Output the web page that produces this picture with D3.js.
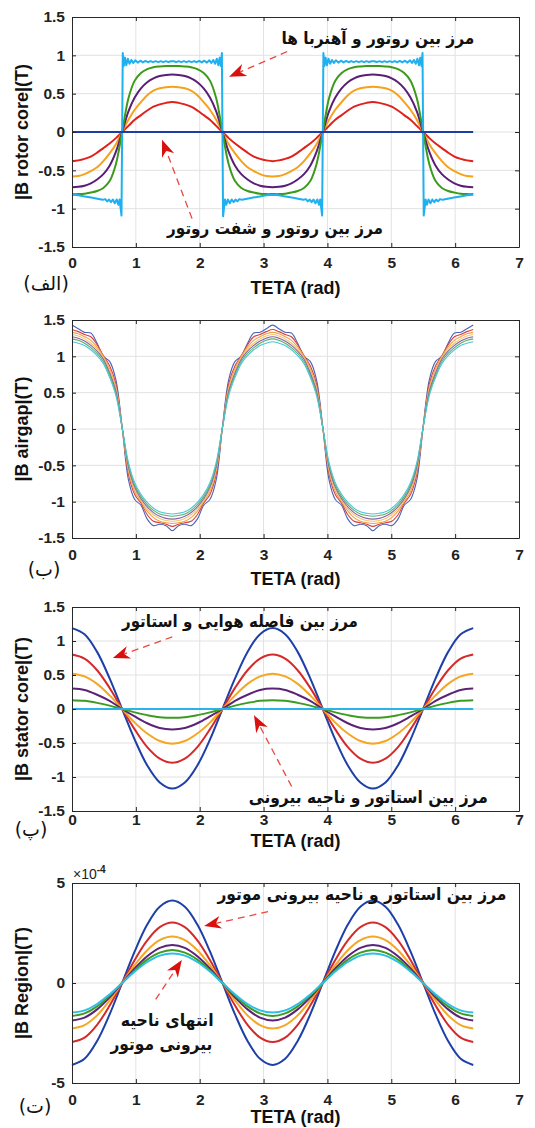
<!DOCTYPE html>
<html>
<head>
<meta charset="utf-8">
<script src="https://cdn.jsdelivr.net/npm/d3@7"></script>
<style>
  body { margin: 0; background: #fff; }
  svg { display: block; }
</style>
</head>
<body>
<div id="chart"></div>
<script>
// theta samples (rad), pi/32 and pi/16 steps
const tetaFine = [0, 0.098, 0.196, 0.295, 0.393, 0.491, 0.589, 0.687, 0.785, 0.884, 0.982, 1.080, 1.178, 1.276, 1.374, 1.473, 1.571,
  1.669, 1.767, 1.865, 1.963, 2.062, 2.160, 2.258, 2.356, 2.454, 2.553, 2.651, 2.749, 2.847, 2.945, 3.043, 3.142,
  3.240, 3.338, 3.436, 3.534, 3.633, 3.731, 3.829, 3.927, 4.025, 4.123, 4.222, 4.320, 4.418, 4.516, 4.614, 4.712,
  4.811, 4.909, 5.007, 5.105, 5.203, 5.301, 5.400, 5.498, 5.596, 5.694, 5.792, 5.890, 5.989, 6.087, 6.185, 6.283];
const tetaCoarse = [0, 0.196, 0.393, 0.589, 0.785, 0.982, 1.178, 1.374, 1.571, 1.767, 1.963, 2.160, 2.356, 2.553, 2.749, 2.945, 3.142,
  3.338, 3.534, 3.731, 3.927, 4.123, 4.320, 4.516, 4.712, 4.909, 5.105, 5.301, 5.498, 5.694, 5.890, 6.087, 6.283];

const xTicks = [0, 1, 2, 3, 4, 5, 6, 7];
const bTicks = [-1.5, -1, -0.5, 0, 0.5, 1, 1.5];
const regionTicks = [-5, 0, 5]; // x 1e-4

// (الف) rotor core
const rotorRed = [-0.38,-0.37,-0.35,-0.32,-0.27,-0.21,-0.15,-0.08,0,0.08,0.16,0.22,0.28,0.33,0.36,0.38,0.39,
  0.38,0.36,0.33,0.28,0.22,0.16,0.08,0,-0.08,-0.15,-0.21,-0.27,-0.32,-0.35,-0.37,-0.38,
  -0.37,-0.35,-0.32,-0.27,-0.21,-0.15,-0.08,0,0.08,0.16,0.22,0.28,0.33,0.36,0.38,0.39,
  0.38,0.36,0.33,0.28,0.22,0.16,0.08,0,-0.08,-0.15,-0.21,-0.27,-0.32,-0.35,-0.37,-0.38];
const rotorOrange = [-0.58,-0.575,-0.55,-0.51,-0.46,-0.38,-0.28,-0.16,0,0.16,0.29,0.39,0.48,0.54,0.57,0.585,0.59,
  0.585,0.57,0.54,0.48,0.39,0.29,0.16,0,-0.16,-0.28,-0.38,-0.46,-0.51,-0.55,-0.575,-0.58,
  -0.575,-0.55,-0.51,-0.46,-0.38,-0.28,-0.16,0,0.16,0.29,0.39,0.48,0.54,0.57,0.585,0.59,
  0.585,0.57,0.54,0.48,0.39,0.29,0.16,0,-0.16,-0.28,-0.38,-0.46,-0.51,-0.55,-0.575,-0.58];
const rotorPurple = [-0.72,-0.715,-0.70,-0.67,-0.62,-0.55,-0.44,-0.26,0,0.27,0.45,0.57,0.65,0.70,0.73,0.745,0.75,
  0.745,0.73,0.70,0.65,0.57,0.45,0.27,0,-0.26,-0.44,-0.55,-0.62,-0.67,-0.70,-0.715,-0.72,
  -0.715,-0.70,-0.67,-0.62,-0.55,-0.44,-0.26,0,0.27,0.45,0.57,0.65,0.70,0.73,0.745,0.75,
  0.745,0.73,0.70,0.65,0.57,0.45,0.27,0,-0.26,-0.44,-0.55,-0.62,-0.67,-0.70,-0.715,-0.72];
const rotorGreen = [-0.81,-0.81,-0.805,-0.79,-0.77,-0.73,-0.64,-0.42,0,0.44,0.67,0.77,0.82,0.845,0.855,0.86,0.86,
  0.86,0.855,0.845,0.82,0.77,0.67,0.44,0,-0.42,-0.64,-0.73,-0.77,-0.79,-0.805,-0.81,-0.81,
  -0.81,-0.805,-0.79,-0.77,-0.73,-0.64,-0.42,0,0.44,0.67,0.77,0.82,0.845,0.855,0.86,0.86,
  0.86,0.855,0.845,0.82,0.77,0.67,0.44,0,-0.42,-0.64,-0.73,-0.77,-0.79,-0.805,-0.81,-0.81];
const rotorShaft = [0,0,0,0,0,0,0,0,0,0,0,0,0,0,0,0,0,0,0,0,0,0,0,0,0,0,0,0,0,0,0,0,0];
// rotor / magnet boundary, [theta, B]
const rotorMagnetPts = [
  [0,-0.82],[0.10,-0.825],[0.20,-0.84],[0.30,-0.855],[0.40,-0.87],[0.48,-0.885],[0.52,-0.875],[0.55,-0.905],
  [0.58,-0.88],[0.61,-0.915],[0.64,-0.88],[0.67,-0.93],[0.70,-0.88],[0.725,-0.95],[0.745,-0.88],[0.762,-1.00],[0.775,-1.09],
  [0.795,1.03],[0.81,0.86],[0.83,0.97],[0.85,0.87],[0.875,0.955],[0.90,0.89],[0.93,0.94],[0.96,0.90],[0.99,0.935],
  [1.03,0.905],[1.07,0.93],[1.11,0.908],[1.15,0.927],[1.19,0.91],[1.23,0.925],[1.27,0.912],[1.31,0.924],[1.35,0.912],
  [1.39,0.924],[1.43,0.912],[1.47,0.924],[1.51,0.912],[1.55,0.922],[1.592,0.922],[1.632,0.912],[1.672,0.924],[1.712,0.912],
  [1.752,0.924],[1.792,0.912],[1.832,0.924],[1.872,0.912],[1.912,0.925],[1.952,0.91],[1.992,0.927],[2.032,0.908],[2.072,0.93],
  [2.112,0.905],[2.152,0.935],[2.182,0.90],[2.212,0.94],[2.242,0.89],[2.267,0.955],[2.292,0.87],[2.312,0.97],[2.332,0.86],[2.347,1.03],
  [2.366,-1.10],[2.379,-1.00],[2.396,-0.88],[2.416,-0.95],[2.441,-0.88],[2.471,-0.93],[2.501,-0.88],[2.531,-0.915],[2.561,-0.88],
  [2.591,-0.905],[2.621,-0.875],[2.661,-0.885],[2.741,-0.87],[2.841,-0.855],[2.941,-0.84],[3.041,-0.825],[3.142,-0.82],
  [3.242,-0.825],[3.342,-0.84],[3.442,-0.855],[3.542,-0.87],[3.622,-0.885],[3.662,-0.875],[3.692,-0.905],[3.722,-0.88],
  [3.752,-0.915],[3.782,-0.88],[3.812,-0.93],[3.842,-0.88],[3.867,-0.95],[3.887,-0.88],[3.904,-1.00],[3.917,-1.09],
  [3.937,1.03],[3.952,0.86],[3.972,0.97],[3.992,0.87],[4.017,0.955],[4.042,0.89],[4.072,0.94],[4.102,0.90],[4.132,0.935],
  [4.172,0.905],[4.212,0.93],[4.252,0.908],[4.292,0.927],[4.332,0.91],[4.372,0.925],[4.412,0.912],[4.452,0.924],[4.492,0.912],
  [4.532,0.924],[4.572,0.912],[4.612,0.924],[4.652,0.912],[4.692,0.922],[4.734,0.922],[4.774,0.912],[4.814,0.924],[4.854,0.912],
  [4.894,0.924],[4.934,0.912],[4.974,0.924],[5.014,0.912],[5.054,0.925],[5.094,0.91],[5.134,0.927],[5.174,0.908],[5.214,0.93],
  [5.254,0.905],[5.294,0.935],[5.324,0.90],[5.354,0.94],[5.384,0.89],[5.409,0.955],[5.434,0.87],[5.454,0.97],[5.474,0.86],[5.489,1.03],
  [5.508,-1.09],[5.521,-1.00],[5.538,-0.88],[5.558,-0.95],[5.583,-0.88],[5.613,-0.93],[5.643,-0.88],[5.673,-0.915],[5.703,-0.88],
  [5.733,-0.905],[5.763,-0.875],[5.803,-0.885],[5.883,-0.87],[5.983,-0.855],[6.083,-0.84],[6.183,-0.825],[6.283,-0.82]];

// (ب) airgap
const gapBlue = [1.43,1.38,1.33,1.32,1.18,1.00,0.93,0.68,0.03,-0.70,-0.97,-1.05,-1.24,-1.33,-1.31,-1.33,-1.40,
  -1.33,-1.31,-1.33,-1.24,-1.05,-0.97,-0.70,0.03,0.68,0.93,1.00,1.18,1.32,1.33,1.38,1.43,
  1.38,1.33,1.32,1.18,1.00,0.93,0.68,0.03,-0.70,-0.97,-1.05,-1.24,-1.33,-1.31,-1.33,-1.40,
  -1.33,-1.31,-1.33,-1.24,-1.05,-0.97,-0.70,0.03,0.68,0.93,1.00,1.18,1.32,1.33,1.38,1.43];
const gapRed = [1.37,1.34,1.30,1.27,1.16,1.01,0.87,0.62,0.02,-0.62,-0.90,-1.02,-1.18,-1.27,-1.29,-1.31,-1.34,
  -1.31,-1.29,-1.27,-1.18,-1.02,-0.90,-0.62,0.02,0.62,0.87,1.01,1.16,1.27,1.30,1.34,1.37,
  1.34,1.30,1.27,1.16,1.01,0.87,0.62,0.02,-0.62,-0.90,-1.02,-1.18,-1.27,-1.29,-1.31,-1.34,
  -1.31,-1.29,-1.27,-1.18,-1.02,-0.90,-0.62,0.02,0.62,0.87,1.01,1.16,1.27,1.30,1.34,1.37];
const gapOrange = [1.33,1.31,1.27,1.22,1.13,1.00,0.83,0.58,0.02,-0.58,-0.86,-1.00,-1.13,-1.22,-1.27,-1.29,-1.30,
  -1.29,-1.27,-1.22,-1.13,-1.00,-0.86,-0.58,0.02,0.58,0.83,1.00,1.13,1.22,1.27,1.31,1.33,
  1.31,1.27,1.22,1.13,1.00,0.83,0.58,0.02,-0.58,-0.86,-1.00,-1.13,-1.22,-1.27,-1.29,-1.30,
  -1.29,-1.27,-1.22,-1.13,-1.00,-0.86,-0.58,0.02,0.58,0.83,1.00,1.13,1.22,1.27,1.31,1.33];
const gapYellow = [1.30,1.28,1.24,1.18,1.10,0.98,0.80,0.55,0.02,-0.55,-0.83,-0.98,-1.10,-1.18,-1.23,-1.26,-1.27,
  -1.26,-1.23,-1.18,-1.10,-0.98,-0.83,-0.55,0.02,0.55,0.80,0.98,1.10,1.18,1.24,1.28,1.30,
  1.28,1.24,1.18,1.10,0.98,0.80,0.55,0.02,-0.55,-0.83,-0.98,-1.10,-1.18,-1.23,-1.26,-1.27,
  -1.26,-1.23,-1.18,-1.10,-0.98,-0.83,-0.55,0.02,0.55,0.80,0.98,1.10,1.18,1.24,1.28,1.30];
const gapPurple = [1.27,1.25,1.21,1.15,1.07,0.96,0.77,0.52,0.02,-0.52,-0.80,-0.96,-1.07,-1.15,-1.20,-1.23,-1.24,
  -1.23,-1.20,-1.15,-1.07,-0.96,-0.80,-0.52,0.02,0.52,0.77,0.96,1.07,1.15,1.21,1.25,1.27,
  1.25,1.21,1.15,1.07,0.96,0.77,0.52,0.02,-0.52,-0.80,-0.96,-1.07,-1.15,-1.20,-1.23,-1.24,
  -1.23,-1.20,-1.15,-1.07,-0.96,-0.80,-0.52,0.02,0.52,0.77,0.96,1.07,1.15,1.21,1.25,1.27];
const gapGreen = [1.24,1.22,1.18,1.12,1.04,0.93,0.74,0.49,0.02,-0.49,-0.77,-0.93,-1.04,-1.12,-1.17,-1.19,-1.20,
  -1.19,-1.17,-1.12,-1.04,-0.93,-0.77,-0.49,0.02,0.49,0.74,0.93,1.04,1.12,1.18,1.22,1.24,
  1.22,1.18,1.12,1.04,0.93,0.74,0.49,0.02,-0.49,-0.77,-0.93,-1.04,-1.12,-1.17,-1.19,-1.20,
  -1.19,-1.17,-1.12,-1.04,-0.93,-0.77,-0.49,0.02,0.49,0.74,0.93,1.04,1.12,1.18,1.22,1.24];
const gapCyan = [1.20,1.18,1.15,1.09,1.01,0.90,0.71,0.46,0.02,-0.46,-0.74,-0.90,-1.01,-1.09,-1.14,-1.16,-1.17,
  -1.16,-1.14,-1.09,-1.01,-0.90,-0.74,-0.46,0.02,0.46,0.71,0.90,1.01,1.09,1.15,1.18,1.20,
  1.18,1.15,1.09,1.01,0.90,0.71,0.46,0.02,-0.46,-0.74,-0.90,-1.01,-1.09,-1.14,-1.16,-1.17,
  -1.16,-1.14,-1.09,-1.01,-0.90,-0.74,-0.46,0.02,0.46,0.71,0.90,1.01,1.09,1.15,1.18,1.20];

// (پ) stator core
const statorBlue = [1.19,1.10,0.84,0.45,0,-0.45,-0.83,-1.08,-1.17,-1.08,-0.83,-0.45,0,0.45,0.84,1.10,1.19,
  1.10,0.84,0.45,0,-0.45,-0.83,-1.08,-1.17,-1.08,-0.83,-0.45,0,0.45,0.84,1.10,1.19];
const statorRed = [0.80,0.74,0.57,0.31,0,-0.30,-0.56,-0.73,-0.79,-0.73,-0.56,-0.30,0,0.31,0.57,0.74,0.80,
  0.74,0.57,0.31,0,-0.30,-0.56,-0.73,-0.79,-0.73,-0.56,-0.30,0,0.31,0.57,0.74,0.80];
const statorOrange = [0.52,0.48,0.37,0.20,0,-0.20,-0.36,-0.47,-0.51,-0.47,-0.36,-0.20,0,0.20,0.37,0.48,0.52,
  0.48,0.37,0.20,0,-0.20,-0.36,-0.47,-0.51,-0.47,-0.36,-0.20,0,0.20,0.37,0.48,0.52];
const statorPurple = [0.30,0.28,0.21,0.12,0,-0.11,-0.21,-0.28,-0.30,-0.28,-0.21,-0.11,0,0.12,0.21,0.28,0.30,
  0.28,0.21,0.12,0,-0.11,-0.21,-0.28,-0.30,-0.28,-0.21,-0.11,0,0.12,0.21,0.28,0.30];
const statorGreen = [0.13,0.12,0.09,0.05,0,-0.05,-0.09,-0.12,-0.13,-0.12,-0.09,-0.05,0,0.05,0.09,0.12,0.13,
  0.12,0.09,0.05,0,-0.05,-0.09,-0.12,-0.13,-0.12,-0.09,-0.05,0,0.05,0.09,0.12,0.13];
const statorOuter = [0,0,0,0,0,0,0,0,0,0,0,0,0,0,0,0,0,0,0,0,0,0,0,0,0,0,0,0,0,0,0,0,0];

// (ت) outer region, in units of 1e-4 T
const regionBlue = [-4.10,-3.79,-2.90,-1.57,0,1.58,2.92,3.81,4.12,3.81,2.92,1.58,0,-1.57,-2.90,-3.79,-4.10,
  -3.79,-2.90,-1.57,0,1.58,2.92,3.81,4.12,3.81,2.92,1.58,0,-1.57,-2.90,-3.79,-4.10];
const regionRed = [-2.95,-2.73,-2.09,-1.13,0,1.15,2.13,2.79,3.02,2.79,2.13,1.15,0,-1.13,-2.09,-2.73,-2.95,
  -2.73,-2.09,-1.13,0,1.15,2.13,2.79,3.02,2.79,2.13,1.15,0,-1.13,-2.09,-2.73,-2.95];
const regionOrange = [-2.28,-2.11,-1.62,-0.87,0,0.89,1.64,2.14,2.32,2.14,1.64,0.89,0,-0.87,-1.62,-2.11,-2.28,
  -2.11,-1.62,-0.87,0,0.89,1.64,2.14,2.32,2.14,1.64,0.89,0,-0.87,-1.62,-2.11,-2.28];
const regionPurple = [-1.87,-1.73,-1.32,-0.72,0,0.73,1.34,1.76,1.90,1.76,1.34,0.73,0,-0.72,-1.32,-1.73,-1.87,
  -1.73,-1.32,-0.72,0,0.73,1.34,1.76,1.90,1.76,1.34,0.73,0,-0.72,-1.32,-1.73,-1.87];
const regionGreen = [-1.65,-1.52,-1.17,-0.63,0,0.63,1.17,1.52,1.65,1.52,1.17,0.63,0,-0.63,-1.17,-1.52,-1.65,
  -1.52,-1.17,-0.63,0,0.63,1.17,1.52,1.65,1.52,1.17,0.63,0,-0.63,-1.17,-1.52,-1.65];
const regionCyan = [-1.48,-1.37,-1.05,-0.57,0,0.57,1.05,1.37,1.48,1.37,1.05,0.57,0,-0.57,-1.05,-1.37,-1.48,
  -1.37,-1.05,-0.57,0,0.57,1.05,1.37,1.48,1.37,1.05,0.57,0,-0.57,-1.05,-1.37,-1.48];

const numFont = "'Liberation Sans', Arial, sans-serif";
const faFont = "'DejaVu Sans', sans-serif";
const smooth = d3.curveCatmullRom.alpha(0.5);

const panels = [
  {
    top: 17, bottom: 247, yDomain: [-1.5, 1.5], yTicks: bTicks, yLabel: "|B rotor core|(T)",
    padX: 10, xLabelY: 294, tag: "(الف)", tagX: 46, tagY: 290,
    series: [
      { teta: tetaFine, vals: rotorRed, color: "#e0211b", w: 2 },
      { teta: tetaFine, vals: rotorOrange, color: "#f7a11a", w: 2 },
      { teta: tetaFine, vals: rotorPurple, color: "#5a1e78", w: 2 },
      { teta: tetaFine, vals: rotorGreen, color: "#3c9a1b", w: 2 },
      { pts: rotorMagnetPts, color: "#1eb0f0", w: 2, curve: d3.curveLinear },
      { teta: tetaCoarse, vals: rotorShaft, color: "#1a3da8", w: 2.2 }
    ],
    notes: [
      { text: "مرز بین روتور و آهنربا ها", at: [4.79, 1.15], len: 193 },
      { text: "مرز بین روتور و شفت روتور", at: [3.18, -1.33], len: 216 }
    ],
    arrows: [
      { from: [3.37, 1.05], to: [2.46, 0.72] },
      { from: [1.88, -1.13], to: [1.41, -0.10] }
    ]
  },
  {
    top: 320, bottom: 538, yDomain: [-1.5, 1.5], yTicks: bTicks, yLabel: "|B airgap|(T)",
    padX: 11, xLabelY: 585, tag: "(ب)", tagX: 44, tagY: 576,
    series: [
      { teta: tetaFine, vals: gapBlue, color: "#4b62b8", w: 1.1 },
      { teta: tetaFine, vals: gapRed, color: "#d6403a", w: 1.1 },
      { teta: tetaFine, vals: gapOrange, color: "#f0a04a", w: 1.1 },
      { teta: tetaFine, vals: gapYellow, color: "#f3c46c", w: 1.1 },
      { teta: tetaFine, vals: gapPurple, color: "#8662a8", w: 1.1 },
      { teta: tetaFine, vals: gapGreen, color: "#5dae6a", w: 1.1 },
      { teta: tetaFine, vals: gapCyan, color: "#4cc7d8", w: 1.1 }
    ],
    notes: [], arrows: []
  },
  {
    top: 607, bottom: 811, yDomain: [-1.5, 1.5], yTicks: bTicks, yLabel: "|B stator core|(T)",
    padX: 3, xLabelY: 847, tag: "(پ)", tagX: 31, tagY: 836,
    series: [
      { teta: tetaCoarse, vals: statorBlue, color: "#1c3fa8", w: 2 },
      { teta: tetaCoarse, vals: statorRed, color: "#d42a2a", w: 2 },
      { teta: tetaCoarse, vals: statorOrange, color: "#f5a623", w: 2 },
      { teta: tetaCoarse, vals: statorPurple, color: "#5b2378", w: 2 },
      { teta: tetaCoarse, vals: statorGreen, color: "#3d9a22", w: 2 },
      { teta: tetaCoarse, vals: statorOuter, color: "#2ab3ea", w: 2 }
    ],
    notes: [
      { text: "مرز بین فاصله هوایی و استاتور", at: [2.63, 1.21], len: 236 },
      { text: "مرز بین استاتور و ناحیه بیرونی", at: [4.64, -1.38], len: 239 }
    ],
    arrows: [
      { from: [1.57, 1.06], to: [0.64, 0.75] },
      { from: [3.44, -1.14], to: [2.85, -0.09] }
    ]
  },
  {
    top: 883, bottom: 1083, yDomain: [-5, 5], yTicks: regionTicks, yLabel: "|B Region|(T)",
    padX: 11, xLabelY: 1123, tag: "(ت)", tagX: 35, tagY: 1113, exponent: true,
    series: [
      { teta: tetaCoarse, vals: regionBlue, color: "#1d3fa8", w: 2 },
      { teta: tetaCoarse, vals: regionRed, color: "#d42a2a", w: 2 },
      { teta: tetaCoarse, vals: regionOrange, color: "#f5a623", w: 2 },
      { teta: tetaCoarse, vals: regionPurple, color: "#5b2378", w: 2 },
      { teta: tetaCoarse, vals: regionGreen, color: "#3d9a22", w: 2 },
      { teta: tetaCoarse, vals: regionCyan, color: "#2dbfe6", w: 2 }
    ],
    notes: [
      { text: "مرز بین استاتور و ناحیه بیرونی موتور", at: [4.54, 4.15], len: 289 },
      { text: "انتهای ناحیه", at: [1.49, -2.15], len: 93 },
      { text: "بیرونی موتور", at: [1.40, -3.35], len: 102 }
    ],
    arrows: [
      { from: [3.07, 3.57], to: [2.07, 2.85] },
      { from: [1.31, -0.82], to: [1.72, 1.15] }
    ]
  }
];

const W = 535, H = 1128;
const svg = d3.select("#chart").append("svg")
  .attr("width", W).attr("height", H)
  .style("background", "#fff");

const x = d3.scaleLinear().domain([0, 7]).range([72, 519]);

function styleAxis(g) {
  g.attr("font-family", numFont).attr("font-size", 15.5).attr("font-weight", "bold").attr("color", "#222");
  g.select(".domain").attr("stroke", "#2a2a2a");
}

function drawArrow(g, p1, p2) {
  const ang = Math.atan2(p2[1] - p1[1], p2[0] - p1[0]);
  const L = 17, hw = 6.5;
  const ux = Math.cos(ang), uy = Math.sin(ang);
  const back = [p2[0] - ux * L, p2[1] - uy * L];
  const notch = [p2[0] - ux * L * 0.7, p2[1] - uy * L * 0.7];
  g.append("line")
    .attr("x1", p1[0]).attr("y1", p1[1]).attr("x2", notch[0]).attr("y2", notch[1])
    .attr("stroke", "#e9473f").attr("stroke-width", 1.3).attr("stroke-dasharray", "7,5");
  const head = [
    p2,
    [back[0] - uy * hw, back[1] + ux * hw],
    notch,
    [back[0] + uy * hw, back[1] - ux * hw]
  ];
  g.append("path").attr("d", "M" + head.map(d => d.join(",")).join("L") + "Z").attr("fill", "#d9100c");
}

panels.forEach((p, i) => {
  const y = d3.scaleLinear().domain(p.yDomain).range([p.bottom, p.top]);
  const g = svg.append("g");

  // grid
  g.append("g").selectAll("line").data(xTicks.slice(1, -1)).join("line")
    .attr("x1", d => x(d)).attr("x2", d => x(d)).attr("y1", p.top).attr("y2", p.bottom)
    .attr("stroke", "#e2e2e2").attr("stroke-width", 1);
  g.append("g").selectAll("line").data(p.yTicks.slice(1, -1)).join("line")
    .attr("x1", x(0)).attr("x2", x(7)).attr("y1", d => y(d)).attr("y2", d => y(d))
    .attr("stroke", "#e2e2e2").attr("stroke-width", 1);

  // curves
  const line = d3.line().x(d => x(d[0])).y(d => y(d[1]));
  p.series.forEach(s => {
    const pts = s.pts || d3.zip(s.teta, s.vals);
    g.append("path").datum(pts)
      .attr("fill", "none").attr("stroke", s.color).attr("stroke-width", s.w)
      .attr("stroke-linejoin", "round")
      .attr("d", line.curve(s.curve || smooth));
  });

  // axes (inward ticks on all sides)
  g.append("g").attr("transform", `translate(0,${p.bottom})`)
    .call(d3.axisBottom(x).tickValues(xTicks).tickSizeInner(-4).tickSizeOuter(0).tickPadding(p.padX).tickFormat(d => String(d)))
    .call(styleAxis);
  g.append("g").attr("transform", `translate(${x(0)},0)`)
    .call(d3.axisLeft(y).tickValues(p.yTicks).tickSizeInner(-4).tickSizeOuter(0).tickPadding(7).tickFormat(d => String(d)))
    .call(styleAxis);
  g.append("g").attr("transform", `translate(0,${p.top})`)
    .call(d3.axisTop(x).tickValues(xTicks).tickSizeInner(-4).tickSizeOuter(0).tickFormat(""))
    .call(styleAxis);
  g.append("g").attr("transform", `translate(${x(7)},0)`)
    .call(d3.axisRight(y).tickValues(p.yTicks).tickSizeInner(-4).tickSizeOuter(0).tickFormat(""))
    .call(styleAxis);

  // axis titles
  g.append("text")
    .attr("x", (x(0) + x(7)) / 2).attr("y", p.xLabelY)
    .attr("text-anchor", "middle")
    .attr("font-family", numFont).attr("font-size", 18).attr("font-weight", "bold").attr("fill", "#111")
    .text("TETA (rad)");
  g.append("text")
    .attr("transform", `translate(28,${(p.top + p.bottom) / 2}) rotate(-90)`)
    .attr("text-anchor", "middle")
    .attr("font-family", numFont).attr("font-size", 18).attr("font-weight", "bold").attr("fill", "#111")
    .text(p.yLabel);

  // panel tag
  g.append("text")
    .attr("x", p.tagX).attr("y", p.tagY).attr("text-anchor", "middle")
    .attr("font-family", faFont).attr("font-size", 19).attr("fill", "#111")
    .text(p.tag);

  if (p.exponent) {
    const t = g.append("text").attr("x", x(0) + 1).attr("y", p.top - 4)
      .attr("font-family", numFont).attr("font-size", 14).attr("fill", "#222");
    t.append("tspan").text("×10");
    t.append("tspan").attr("font-size", 10).attr("font-weight", "bold").attr("dy", -6).text("-4");
  }

  // annotations
  p.arrows.forEach(a => drawArrow(g, [x(a.from[0]), y(a.from[1])], [x(a.to[0]), y(a.to[1])]));
  p.notes.forEach(n => {
    g.append("text")
      .attr("x", x(n.at[0])).attr("y", y(n.at[1]))
      .attr("text-anchor", "middle")
      .attr("font-family", faFont).attr("font-size", 17).attr("font-weight", "bold").attr("fill", "#111")
      .attr("textLength", n.len).attr("lengthAdjust", "spacingAndGlyphs")
      .text(n.text);
  });
});
</script>
</body>
</html>
